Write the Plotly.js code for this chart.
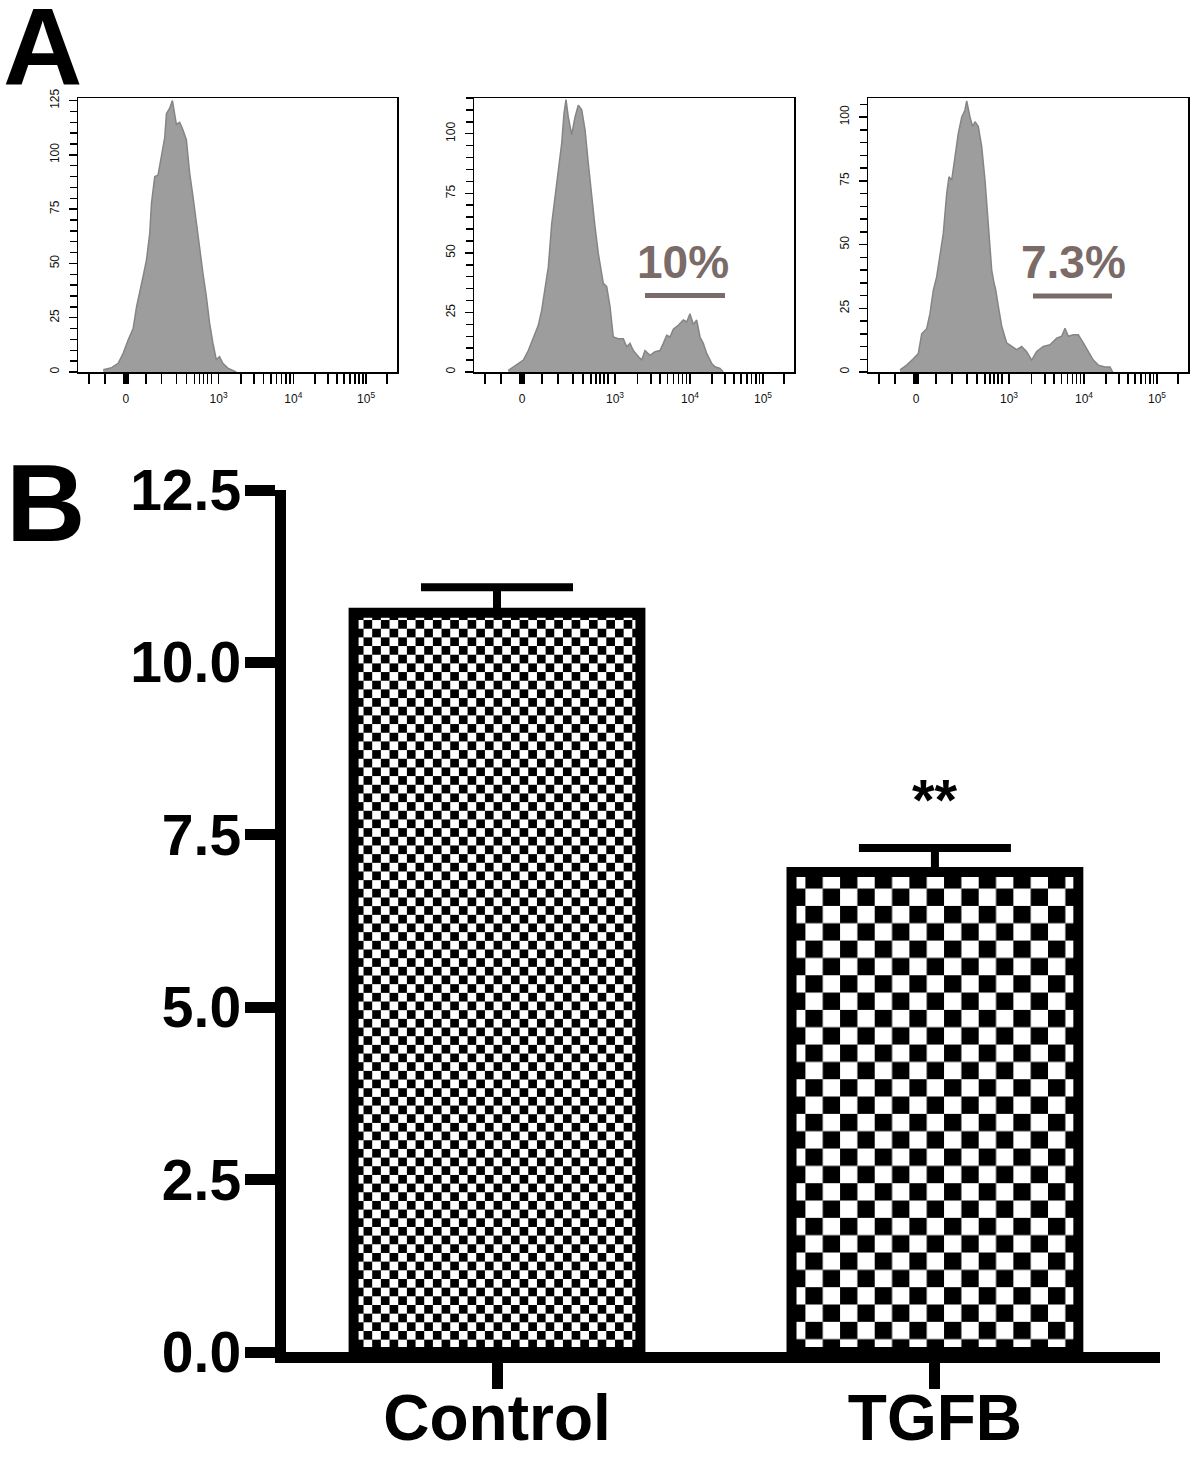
<!DOCTYPE html>
<html>
<head>
<meta charset="utf-8">
<script src="https://cdn.plot.ly/plotly-3.0.1.min.js"></script>
<style>html,body{margin:0;padding:0;background:#fff}#chart{width:1200px;height:1466px}</style>
</head>
<body>
<div id="chart"></div>
<script>
// ---------- DATA ----------
// Panel A: flow cytometry histograms (x in display channel units, y = count)
const histCtrlX = [25.3,33.7,40.3,45.3,50.3,55.3,58.7,62,65.3,68.7,72,73.7,77,80.3,83.7,87,88.7,92,94.7,97,98.7,102,105.3,108.7,112,115.3,118.7,122,125.3,128.7,132,135.3,138.7,142,145.3,150.3,157,158.7];
const histCtrlY = [1,2,4,8.6,14.7,20,30,37.8,44,51.6,64,77.7,90,90.7,99,108,119,121.5,125,117.6,114,115,111.5,107,91.6,81,68.6,57.8,45.6,35,22.5,13.4,5.7,7,4,1.8,0.5,0];

const hist2X = [34.3,42.7,49.3,54.3,59.3,64.3,67.7,71,74.3,77.7,81,84.3,87.7,90,92,94.3,97.7,101,104.3,107.7,111,114.3,117.7,121,124.3,129.3,132.7,136,139.3,144.3,149.3,152.7,156,159.3,164.3,167.7,171,176,181,186,189.3,192.7,196,199.3,204.3,209.3,212.7,216,219.3,222.7,226,229.3,232.7,237.7,241,246,249.3];
const hist2Y = [0.7,2.9,5,9,14.7,19.6,26,34.5,44,62.2,73.6,86.3,96,108.6,114.3,107,99.6,107,112,110,101.7,87.6,73.6,61,49.8,37.2,35.8,27.5,14.7,14,14,10.6,12,9,6.5,5,9,7,8.5,9,12,15.4,14.7,18,19.6,21.8,21,24.4,20,21.8,14.7,12,7.8,3.6,2.2,1.5,0];

const hist3X = [32,38.7,45.3,50.3,53.7,58.7,62,65.3,68.7,72,75.3,78.7,81,83.7,87,90.3,93.7,97,98.7,102,104.7,107,110.3,113.7,117,120.3,123.7,126,127.7,130.3,133.7,138.7,143.7,148.7,153.7,158.7,163.7,168.7,175.3,182,188.7,193.7,197,200.3,205.3,210.3,215.3,220.3,225.3,230.3,237,242,244.7];
const hist3Y = [0.8,2.7,5.2,7.2,15,17,23,32,37.4,46.5,54.4,70,76.6,75.3,84.4,93.6,100,102.8,106.4,100,96.3,98.2,96.3,88.4,75.3,59.6,40,34.9,32.3,25.8,18,11.4,10,8.8,10,8,4.7,8,10,10.7,13.3,14,17.2,14,14.6,14.6,11.4,8,4.7,2.7,2,2,0];

const histLabels = ["10%", "7.3%"];
const histYMax = [126.2, 115, 107.5];

// Panel B: bar chart
const groups = ["Control", "TGFB"];
const means = [10.72, 6.96];
const sems = [0.37, 0.35];
const sigMarks = ["", "**"];
const barTicks = [0, 2.5, 5, 7.5, 10, 12.5];

// ---------- AXIS TICK CONFIG (flow biexponential display) ----------
const majorPos = [48, 141, 216, 289];
const majorText = ["0", "10<sup>3</sup>", "10<sup>4</sup>", "10<sup>5</sup>"];
const minorPos = [11, 27, 46, 47, 49, 50, 68, 84, 99, 109, 117, 122, 126, 130, 134, 310];
for (let k = 2; k <= 9; k++) { minorPos.push(141 + 75 * Math.log10(k)); minorPos.push(216 + 73 * Math.log10(k)); }

const FONT = "Liberation Sans, Arial, Helvetica, sans-serif";
const W = 1200, H = 1466;
const px = x => x / W, py = y => 1 - y / H;

function histXAxis(dom, anchor) {
  return {
    domain: dom, anchor: anchor, range: [0, 320], showline: true, mirror: true,
    linecolor: '#000', linewidth: 1.5, ticks: 'outside', ticklen: 10, tickwidth: 1.5, tickcolor: '#000',
    tickmode: 'array', tickvals: majorPos, ticktext: majorText, ticklabelstandoff: 5,
    tickfont: { size: 12, family: FONT, color: '#111' }, showgrid: false, zeroline: false, fixedrange: true,
    minor: { tickmode: 'array', tickvals: minorPos, ticks: 'outside', ticklen: 10, tickwidth: 1.5, tickcolor: '#000', showgrid: false }
  };
}
function histYAxis(dom, anchor, ymax) {
  const tv = [];
  for (let v = 0; v <= ymax; v += 25) tv.push(v);
  return {
    domain: dom, anchor: anchor, range: [0, ymax], showline: true, mirror: true,
    linecolor: '#000', linewidth: 1.5, ticks: 'outside', ticklen: 8, tickwidth: 1.5, tickcolor: '#000',
    tickmode: 'array', tickvals: tv, tickangle: -90, ticklabelstandoff: 5,
    tickfont: { size: 12, family: FONT, color: '#111' }, showgrid: false, zeroline: false, fixedrange: true,
    minor: { dtick: 5, tick0: 0, ticks: 'outside', ticklen: 7, tickwidth: 1.5, tickcolor: '#000', showgrid: false }
  };
}

const yDomA = [py(372), py(98)];
const histStyle = { mode: 'lines', fill: 'tozeroy', fillcolor: '#9d9d9d', line: { color: '#858585', width: 1.5 }, hoverinfo: 'skip' };

const traces = [
  Object.assign({ x: histCtrlX, y: histCtrlY, xaxis: 'x', yaxis: 'y' }, histStyle),
  Object.assign({ x: hist2X, y: hist2Y, xaxis: 'x2', yaxis: 'y2' }, histStyle),
  Object.assign({ x: hist3X, y: hist3Y, xaxis: 'x3', yaxis: 'y3' }, histStyle)
];
groups.forEach((g, i) => {
  traces.push({
    type: 'bar', x: [g], y: [means[i]], xaxis: 'x4', yaxis: 'y4', width: 0.655,
    marker: { color: '#ffffff', line: { color: '#000', width: 10 } },
    error_y: { type: 'data', symmetric: false, array: [sems[i]], arrayminus: [0], color: '#000', thickness: 8, width: 76 },
    hoverinfo: 'skip'
  });
});

const annotations = [
  { text: '<b>A</b>', x: px(42), y: py(46), xref: 'paper', yref: 'paper', showarrow: false, font: { size: 110, family: FONT, color: '#000' }, xanchor: 'center', yanchor: 'middle' },
  { text: '<b>B</b>', x: px(45), y: py(502), xref: 'paper', yref: 'paper', showarrow: false, font: { size: 110, family: FONT, color: '#000' }, xanchor: 'center', yanchor: 'middle' },
  { text: '<b>' + histLabels[0] + '</b>', x: px(683), y: py(262), xref: 'paper', yref: 'paper', showarrow: false, font: { size: 46, family: FONT, color: '#7a6a68' }, xanchor: 'center', yanchor: 'middle' },
  { text: '<b>' + histLabels[1] + '</b>', x: px(1073), y: py(262), xref: 'paper', yref: 'paper', showarrow: false, font: { size: 46, family: FONT, color: '#7a6a68' }, xanchor: 'center', yanchor: 'middle' }
];
groups.forEach((g, i) => {
  if (sigMarks[i]) annotations.push({ text: '<b>' + sigMarks[i] + '</b>', x: g, y: means[i] + sems[i], xref: 'x4', yref: 'y4', yshift: 48, showarrow: false, font: { size: 58, family: FONT, color: '#000' }, xanchor: 'center', yanchor: 'middle' });
});

const shapes = [
  { type: 'line', xref: 'paper', yref: 'paper', x0: px(645), x1: px(725), y0: py(295.5), y1: py(295.5), line: { color: '#7a6a68', width: 5 } },
  { type: 'line', xref: 'paper', yref: 'paper', x0: px(1033), x1: px(1112), y0: py(296), y1: py(296), line: { color: '#7a6a68', width: 5 } }
];

const layout = {
  width: W, height: H, margin: { l: 0, r: 0, t: 0, b: 0 }, paper_bgcolor: '#fff', plot_bgcolor: '#fff',
  showlegend: false, barmode: 'overlay',
  xaxis: histXAxis([px(78), px(397)], 'y'),
  yaxis: histYAxis(yDomA, 'x', histYMax[0]),
  xaxis2: histXAxis([px(474), px(794)], 'y2'),
  yaxis2: histYAxis(yDomA, 'x2', histYMax[1]),
  xaxis3: histXAxis([px(868), px(1188)], 'y3'),
  yaxis3: histYAxis(yDomA, 'x3', histYMax[2]),
  xaxis4: {
    domain: [px(285.5), px(1160)], anchor: 'y4', type: 'category', range: [-0.483, 1.514],
    showline: true, linecolor: '#000', linewidth: 11, ticks: 'outside', ticklen: 26, tickwidth: 11, tickcolor: '#000',
    ticklabelstandoff: -26,
    tickfont: { size: 64, family: FONT, color: '#000', weight: 'bold' }, showgrid: false, zeroline: false, fixedrange: true
  },
  yaxis4: {
    domain: [py(1352), py(490)], anchor: 'x4', range: [0, 12.5],
    showline: true, linecolor: '#000', linewidth: 11, ticks: 'outside', ticklen: 30, tickwidth: 11, tickcolor: '#000',
    tickmode: 'array', tickvals: barTicks, tickformat: '.1f', ticklabelstandoff: -8,
    tickfont: { size: 57, family: FONT, color: '#000', weight: 'bold' }, showgrid: false, zeroline: false, fixedrange: true
  },
  annotations: annotations, shapes: shapes
};

Plotly.newPlot('chart', traces, layout, { staticPlot: true, displayModeBar: false }).then(gd => {
  // checkerboard fills for the bars (pattern sizes per group)
  const svgNS = 'http://www.w3.org/2000/svg';
  const defs = gd.querySelector('.main-svg defs');
  const sizes = [8.67, 17.33];
  sizes.forEach((s, i) => {
    const pat = document.createElementNS(svgNS, 'pattern');
    pat.setAttribute('id', 'chk' + i);
    pat.setAttribute('patternUnits', 'userSpaceOnUse');
    pat.setAttribute('width', 2 * s); pat.setAttribute('height', 2 * s);
    const mk = (x, y, w, h, c) => { const r = document.createElementNS(svgNS, 'rect'); r.setAttribute('x', x); r.setAttribute('y', y); r.setAttribute('width', w); r.setAttribute('height', h); r.setAttribute('fill', c); pat.appendChild(r); };
    mk(0, 0, 2 * s, 2 * s, '#ffffff');
    mk(0, 0, s, s, '#000000');
    mk(s, s, s, s, '#000000');
    defs.appendChild(pat);
  });
  const barTraces = gd.querySelectorAll('.barlayer .trace');
  barTraces.forEach((t, i) => {
    t.querySelectorAll('path').forEach(p => { p.style.fill = 'url(#chk' + i + ')'; });
  });
});
</script>
</body>
</html>
